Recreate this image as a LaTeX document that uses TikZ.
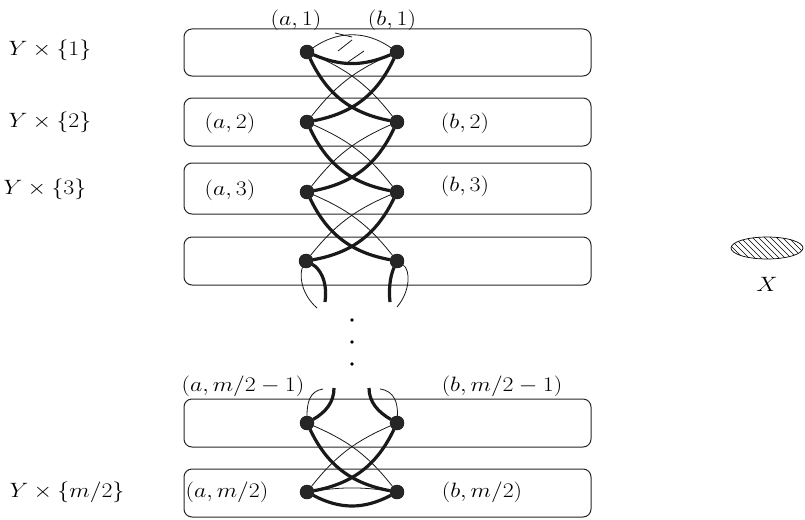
\documentclass[tikz,border=0pt]{standalone}
\begin{document}
\begin{tikzpicture}[x=1pt,y=-1pt,
  lab/.style={font=\fontsize{20}{24}\selectfont, xscale=1.15, inner sep=0pt},
  dot/.style={circle, fill=black!85, draw=black, line width=0.4pt, inner sep=0pt, minimum size=14pt},
  sdot/.style={circle, fill=black, inner sep=0pt, minimum size=3.8pt},
  row/.style={draw=black!85, line width=1pt, rounded corners=8pt},
  thk/.style={draw=black!90, line width=3.2pt},
  thn/.style={draw=black!90, line width=0.8pt}]
\useasboundingbox (0,0) rectangle (805,519);
% rows
\foreach \t/\b in {29/76, 98/146, 163/214, 237/285, 399/447, 469/517}
  \draw[row] (184,\t) rectangle (591,\b);
% vertices
\node[dot] (a1) at (307,52) {};  \node[dot] (b1) at (397,52) {};
\node[dot] (a2) at (307,122) {}; \node[dot] (b2) at (397,122) {};
\node[dot] (a3) at (307,192) {}; \node[dot] (b3) at (397,192) {};
\node[dot] (a4) at (306,261) {}; \node[dot] (b4) at (397,261) {};
\node[dot] (a5) at (307,423) {}; \node[dot] (b5) at (397,423) {};
\node[dot] (a6) at (307,492) {}; \node[dot] (b6) at (397,492) {};
% vertical dots
\node[sdot] (d1) at (352,320) {};
\node[sdot] (d2) at (352,342) {};
\node[sdot] (d3) at (352,364) {};
% row 1 arcs
\draw[thn] (a1) to[bend left=35] (b1);
\draw[thk] (a1) to[bend right=23] (b1);
\coordinate (k1) at (335,33); \coordinate (k2) at (352,37);
\draw[thn] (k1) -- (k2);
\coordinate (h1) at (338,51); \coordinate (h2) at (352,40);
\coordinate (h3) at (348,62); \coordinate (h4) at (364,51);
\draw[thn] (h1) -- (h2);
\draw[thn] (h3) -- (h4);
% crossings
\foreach \i/\j in {1/2, 2/3, 3/4, 5/6} {
  \draw[thn] (a\i) to[bend left=14] (b\j);
  \draw[thn] (b\i) to[bend right=14] (a\j);
  \draw[thk] (a\i) to[bend right=27] (b\j);
  \draw[thk] (b\i) to[bend left=27] (a\j);
}
% row 4 tails
\coordinate (ta) at (325,302); \coordinate (tb) at (317,308);
\coordinate (tc) at (390,302); \coordinate (td) at (397,307);
\draw[thk] (a4) .. controls (319,268) and (328,280) .. (ta);
\draw[thn] (a4) .. controls (300,272) and (299,292) .. (tb);
\draw[thk] (b4) .. controls (392,272) and (388,284) .. (tc);
\draw[thn] (b4) .. controls (411,270) and (410,292) .. (td);
% row 5 tails
\coordinate (ua) at (334,388); \coordinate (ub) at (323,389);
\coordinate (uc) at (369,388); \coordinate (ud) at (380,389);
\draw[thk] (a5) .. controls (326,412) and (334,402) .. (ua);
\draw[thn] (a5) .. controls (307,404) and (309,391) .. (ub);
\draw[thk] (b5) .. controls (378,412) and (369,402) .. (uc);
\draw[thn] (b5) .. controls (398,404) and (395,391) .. (ud);
% row 6 arcs
\draw[thn] (a6) to[bend left=8] (b6);
\draw[thk] (a6) to[bend right=28] (b6);
% redraw vertices on top
\foreach \n in {a1,b1,a2,b2,a3,b3,a4,b4,a5,b5,a6,b6}
  \fill[black!85] (\n) circle (6.8pt);
% labels
\node[lab] (la1) at (296,20) {$(a,1)$};
\node[lab] (lb1) at (392,20) {$(b,1)$};
\node[lab] (la2) at (230,123) {$(a,2)$};
\node[lab] (lb2) at (465,123) {$(b,2)$};
\node[lab] (la3) at (230,190) {$(a,3)$};
\node[lab] (lb3) at (465,186) {$(b,3)$};
\node[lab] (la5) at (243,386) {$(a,m/2-1)$};
\node[lab] (lb5) at (502,386) {$(b,m/2-1)$};
\node[lab] (la6) at (227,492) {$(a,m/2)$};
\node[lab] (lb6) at (482,492) {$(b,m/2)$};
\node[lab] (y1) at (50,50) {$Y\times\{1\}$};
\node[lab] (y2) at (50,122) {$Y\times\{2\}$};
\node[lab] (y3) at (45,189) {$Y\times\{3\}$};
\node[lab] (y6) at (67,492) {$Y\times\{m/2\}$};
% X
\begin{scope}
  \clip (767,248) ellipse (36pt and 11pt);
  \foreach \k in {-8,...,16}
    \draw[line width=0.5pt] (715+\k*6,236) -- (715+\k*6+24,260);
\end{scope}
\draw[line width=0.7pt] (767,248) ellipse (36pt and 11pt);
\node[lab] (xl) at (767,284) {$X$};
\end{tikzpicture}
\end{document}
